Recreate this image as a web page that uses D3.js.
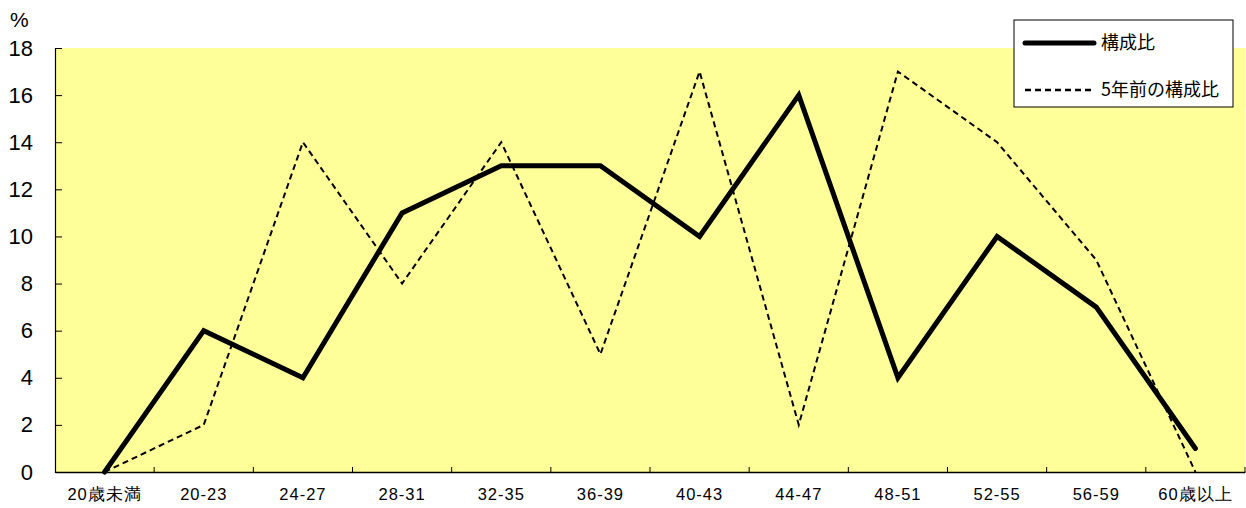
<!DOCTYPE html>
<html><head><meta charset="utf-8">
<script src="https://cdn.jsdelivr.net/npm/d3@7"></script>
<style>body{margin:0;background:#fff}svg{display:block;font-family:"Noto Sans CJK JP","DejaVu Sans",sans-serif}</style>
</head><body>
<svg id="c" width="1246" height="508"></svg>
<script>
const categories = ["20歳未満","20-23","24-27","28-31","32-35","36-39","40-43","44-47","48-51","52-55","56-59","60歳以上"];
const current = [0,6,4,11,13,13,10,16,4,10,7,1];
const previous = [0,2,14,8,14,5,17,2,17,14,9,0];
const yTicks = [0,2,4,6,8,10,12,14,16,18];
const seriesNames = ["構成比","5年前の構成比"];

const svg = d3.select("#c");
const L=55, R=1245, T=48, B=472;
const x = d3.scaleBand().domain(categories).range([L,R]);
const y = d3.scaleLinear().domain([0,18]).range([B,T]);

svg.append("rect").attr("x",L).attr("y",T).attr("width",R-L).attr("height",B-T).attr("fill","#FFFF99");

const yAxis = svg.append("g").attr("transform",`translate(${L},0)`)
  .call(d3.axisLeft(y).tickValues(yTicks).tickSize(-7).tickPadding(22).tickFormat(d3.format("d")));
yAxis.select(".domain").attr("stroke","#000").attr("stroke-width",1.2);
yAxis.selectAll("text").attr("font-size",22).attr("fill","#000").attr("font-family","Liberation Sans Narrow, Liberation Sans, Arial, sans-serif");

const xAxis = svg.append("g").attr("transform",`translate(0,${B})`)
  .call(d3.axisBottom(x).tickSize(0).tickPadding(16));
xAxis.select(".domain").attr("stroke","#000").attr("stroke-width",1.5);
xAxis.selectAll("text").attr("font-size",16.5).attr("letter-spacing",1).attr("fill","#000");
const bounds = categories.map(c=>x(c)).slice(1).concat([R]);
xAxis.selectAll("line.b").data(bounds).enter().append("line").attr("class","b")
  .attr("x1",d=>d).attr("x2",d=>d).attr("y1",0).attr("y2",-5).attr("stroke","#000").attr("stroke-width",1);

svg.append("text").attr("x",10).attr("y",27).attr("font-size",21).attr("font-family","Liberation Sans Narrow, Liberation Sans, Arial, sans-serif").text("%");

const line = d3.line().x((d,i)=>x(categories[i])+x.bandwidth()/2).y(d=>y(d));
svg.append("path").datum(previous).attr("d",line).attr("fill","none").attr("stroke","#000").attr("stroke-width",2).attr("stroke-dasharray","6,4");
svg.append("path").datum(current).attr("d",line).attr("fill","none").attr("stroke","#000").attr("stroke-width",5).attr("stroke-linejoin","miter").attr("stroke-linecap","round");

const lg = svg.append("g");
lg.append("rect").attr("x",1014).attr("y",20).attr("width",219).attr("height",87).attr("fill","#fff").attr("stroke","#000").attr("stroke-width",1);
lg.append("line").attr("x1",1025).attr("x2",1094).attr("y1",43).attr("y2",43).attr("stroke","#000").attr("stroke-width",5).attr("stroke-linecap","round");
lg.append("line").attr("x1",1025).attr("x2",1094).attr("y1",90).attr("y2",90).attr("stroke","#000").attr("stroke-width",2.5).attr("stroke-dasharray","6,4");
lg.append("text").attr("x",1101).attr("y",49).attr("font-size",18).text(seriesNames[0]);
lg.append("text").attr("x",1101).attr("y",96).attr("font-size",18).text(seriesNames[1]);
</script>
</body></html>
